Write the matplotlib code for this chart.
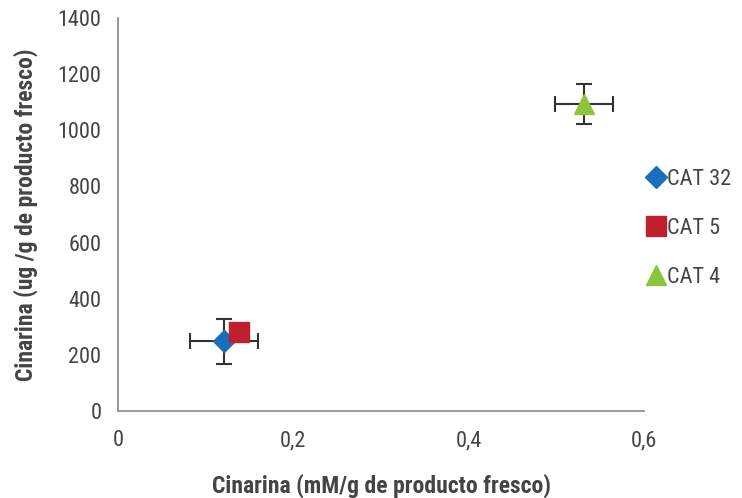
import numpy as np
import matplotlib.pyplot as plt

plt.rcParams['font.family'] = ['Roboto Condensed', 'Archivo Narrow', 'DejaVu Sans']

labels = ['CAT 32', 'CAT 5', 'CAT 4']
x_vals = [0.121, 0.138, 0.532]
y_vals = [249, 281, 1094]
x_err = [0.039, 0.0, 0.033]
y_err = [80, 0, 70]
colors = ['#1a6fbd', '#c0202e', '#8cc43c']
markers = ['D', 's', '^']
sizes = [11, 14, 15]

fig = plt.figure(figsize=(7.42, 4.98), dpi=100)
ax = fig.add_axes([118/742, 1 - 411/498, (644-118)/742, (411-18)/498])

for i in range(len(labels)):
    if x_err[i] > 0:
        ax.errorbar(x_vals[i], y_vals[i], xerr=x_err[i], yerr=y_err[i], fmt='none',
                    ecolor='#333333', elinewidth=1.5, capsize=6, capthick=1.5, zorder=2)
    ax.plot(x_vals[i], y_vals[i], marker=markers[i], color=colors[i], markersize=sizes[i],
            linestyle='none', label=labels[i], zorder=3)

ax.set_xlim(0, 0.6)
ax.set_ylim(0, 1400)
ax.set_xticks([0, 0.2, 0.4, 0.6])
ax.set_xticklabels(['0', '0,2', '0,4', '0,6'])
ax.set_yticks(np.arange(0, 1401, 200))
for s in ['top', 'right']:
    ax.spines[s].set_visible(False)
for s in ['left', 'bottom']:
    ax.spines[s].set_color('#888888')
    ax.spines[s].set_linewidth(1.2)
ax.tick_params(length=0, labelsize=16, colors='#444444')
ax.tick_params(axis='x', pad=14)
ax.tick_params(axis='y', pad=12)

ax.set_xlabel('Cinarina (mM/g de producto fresco)', fontsize=17, fontweight='bold',
              color='#444444', labelpad=16)
ax.set_ylabel('Cinarina (ug /g de producto fresco)', fontsize=17, fontweight='bold',
              color='#444444', labelpad=14)

leg = ax.legend(loc='center left', bbox_to_anchor=(0.955, 0.465), frameon=False, fontsize=16,
                handletextpad=-0.2, labelspacing=1.25, handlelength=1.4)
for t in leg.get_texts():
    t.set_color('#444444')

fig.savefig('out.png', dpi=100)
